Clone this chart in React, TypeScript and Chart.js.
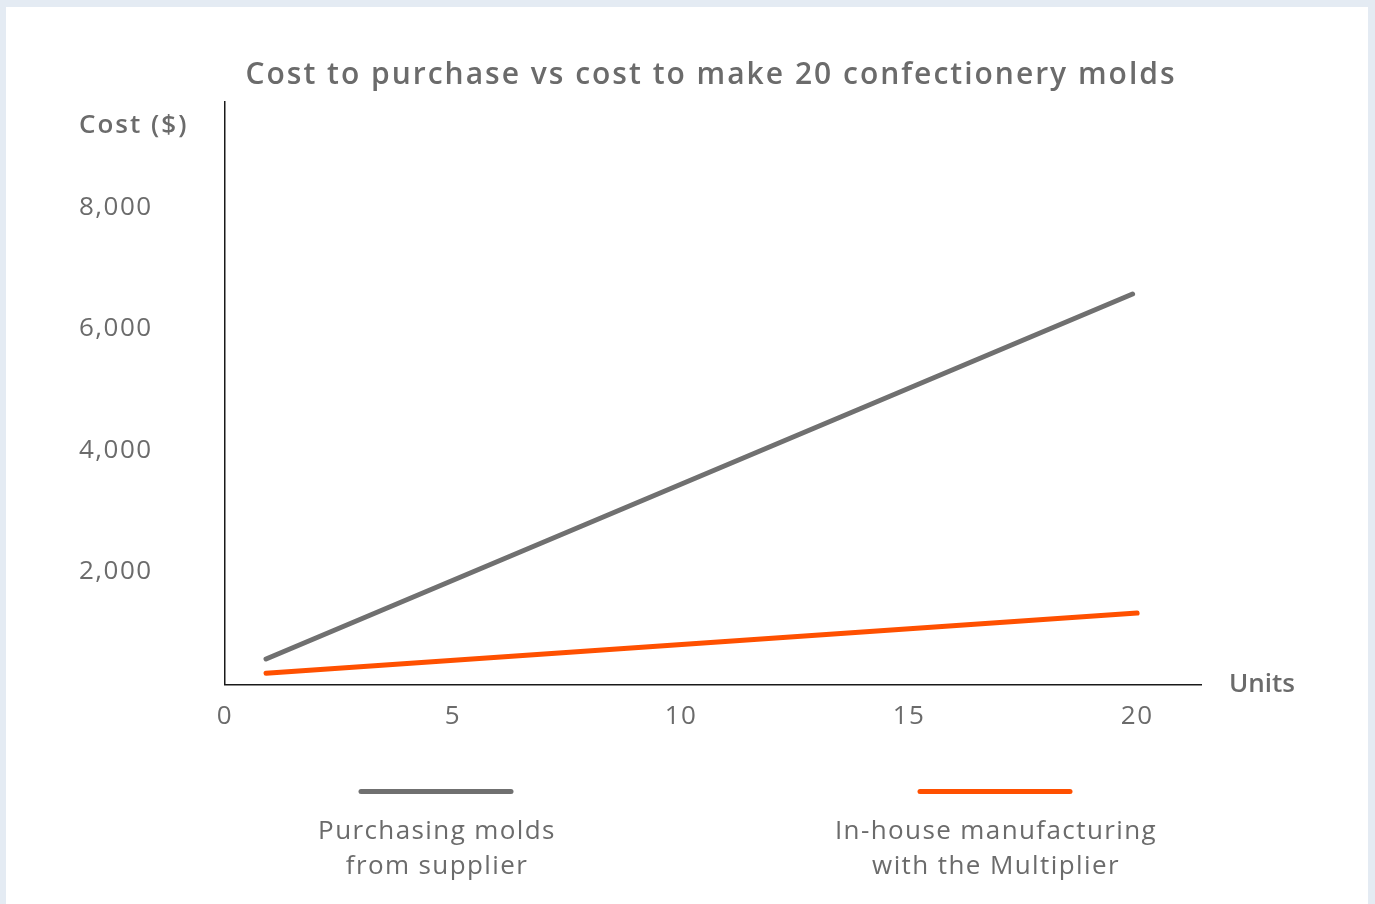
import { useEffect, useRef } from "react";
import { Chart, registerables } from "chart.js";

Chart.register(...registerables);

const TITLE = "Cost to purchase vs cost to make 20 confectionery molds";
const Y_AXIS_LABEL = "Cost ($)";
const X_AXIS_LABEL = "Units";
const X_TICKS = [0, 5, 10, 15, 20];
const Y_TICKS = [2000, 4000, 6000, 8000];
const SERIES_NAMES = [
  ["Purchasing molds", "from supplier"],
  ["In-house manufacturing", "with the Multiplier"],
];
const PURCHASE_UNITS = [0.9, 19.9];
const PURCHASE_COST = [535, 6540];
const INHOUSE_UNITS = [0.9, 20];
const INHOUSE_COST = [300, 1290];

const GRAY = "#707070";
const ORANGE = "#ff5000";
const TEXT = "#6b6b6b";
const FONT = "'Open Sans', sans-serif";

const overlayPlugin = {
  id: "overlay",
  beforeDraw(chart: any) {
    chart.ctx.letterSpacing = "1.5px";
  },
  afterDraw(chart: any) {
    const ctx = chart.ctx;
    const ca = chart.chartArea;
    ctx.save();
    ctx.fillStyle = TEXT;
    ctx.textBaseline = "middle";
    ctx.textAlign = "center";
    ctx.letterSpacing = "2px";
    ctx.font = `600 30px ${FONT}`;
    ctx.fillText(TITLE, 705, 68);

    ctx.font = `600 26px ${FONT}`;
    ctx.textAlign = "left";
    ctx.letterSpacing = "2px";
    ctx.fillText(Y_AXIS_LABEL, 73, 119);
    ctx.letterSpacing = "0px";
    ctx.fillText(X_AXIS_LABEL, ca.right + 28, ca.bottom);

    const centers = [430, 989];
    chart.data.datasets.forEach((ds: any, i: number) => {
      const cx = centers[i];
      ctx.strokeStyle = ds.borderColor;
      ctx.lineWidth = 5;
      ctx.lineCap = "round";
      ctx.beginPath();
      ctx.moveTo(cx - 75, 784.5);
      ctx.lineTo(cx + 75, 784.5);
      ctx.stroke();
      ctx.fillStyle = TEXT;
      ctx.font = `400 26px ${FONT}`;
      ctx.textAlign = "center";
      ctx.letterSpacing = "1.4px";
      const lines: string[] = SERIES_NAMES[i];
      lines.forEach((t, j) => ctx.fillText(t, cx + 1, 825 + j * 35));
    });
    ctx.restore();
    ctx.letterSpacing = "0px";
  },
};

export default function App() {
  const ref = useRef<HTMLCanvasElement | null>(null);
  useEffect(() => {
    if (!ref.current) return;
    const chart = new Chart(ref.current, {
      type: "line",
      data: {
        datasets: [
          {
            label: SERIES_NAMES[0].join(" "),
            data: PURCHASE_UNITS.map((x, i) => ({ x, y: PURCHASE_COST[i] })),
            borderColor: GRAY,
            backgroundColor: GRAY,
            borderWidth: 5,
            borderCapStyle: "round",
            pointRadius: 0,
          },
          {
            label: SERIES_NAMES[1].join(" "),
            data: INHOUSE_UNITS.map((x, i) => ({ x, y: INHOUSE_COST[i] })),
            borderColor: ORANGE,
            backgroundColor: ORANGE,
            borderWidth: 5,
            borderCapStyle: "round",
            pointRadius: 0,
          },
        ],
      },
      options: {
        animation: false,
        responsive: false,
        devicePixelRatio: 1,
        layout: { padding: { left: 73, top: 95, right: 167, bottom: 159.5 } },
        plugins: {
          legend: { display: false },
          title: { display: false },
          tooltip: { enabled: false },
        },
        scales: {
          x: {
            type: "linear",
            min: 0,
            max: 21.4,
            grid: { display: false, drawTicks: false },
            border: { display: true, color: "#1a1a1a", width: 1.5 },
            afterBuildTicks: (axis: any) => {
              axis.ticks = X_TICKS.map((v) => ({ value: v }));
            },
            afterFit: (axis: any) => {
              axis.height = 60;
            },
            ticks: {
              color: TEXT,
              font: { family: FONT, size: 26 },
              padding: 16,
              maxRotation: 0,
              autoSkip: false,
            },
          },
          y: {
            type: "linear",
            min: 115,
            max: 9700,
            grid: { display: false, drawTicks: false },
            border: { display: true, color: "#1a1a1a", width: 1.5 },
            afterBuildTicks: (axis: any) => {
              axis.ticks = Y_TICKS.map((v) => ({ value: v }));
            },
            afterFit: (axis: any) => {
              axis.width = 146;
            },
            ticks: {
              color: TEXT,
              font: { family: FONT, size: 26 },
              crossAlign: "far",
              labelOffset: 2,
              autoSkip: false,
              callback: (v: any) => Number(v).toLocaleString("en-US"),
            },
          },
        },
      },
      plugins: [overlayPlugin],
    } as any);
    return () => chart.destroy();
  }, []);

  return (
    <div style={{ position: "fixed", left: 0, top: 0, width: 1375, height: 904, background: "#e4ebf3", overflow: "hidden" }}>
      <div style={{ position: "absolute", left: 6, top: 7, width: 1362, height: 897, background: "#ffffff" }}>
        <canvas ref={ref} width={1362} height={897} style={{ display: "block", width: 1362, height: 897 }} />
      </div>
    </div>
  );
}
